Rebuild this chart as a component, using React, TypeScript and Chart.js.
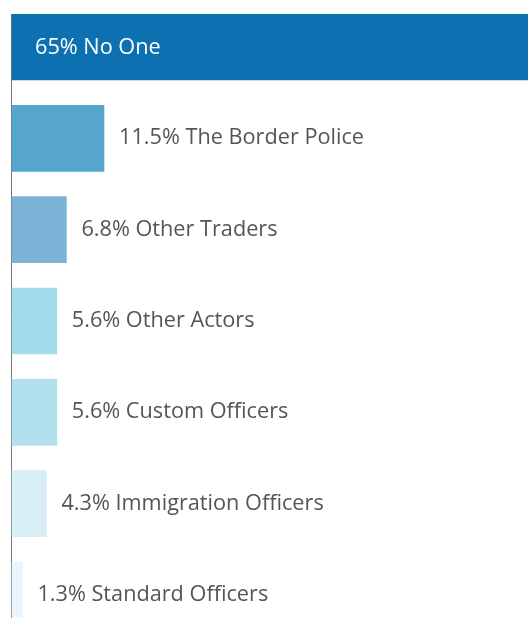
import React, { useEffect, useRef } from "react";
import { Chart, registerables } from "chart.js";

Chart.register(...registerables);

const categories = [
  "No One",
  "The Border Police",
  "Other Traders",
  "Other Actors",
  "Custom Officers",
  "Immigration Officers",
  "Standard Officers",
];
const values = [65, 11.5, 6.8, 5.6, 5.6, 4.3, 1.3];
const valueLabels = ["65%", "11.5%", "6.8%", "5.6%", "5.6%", "4.3%", "1.3%"];
const barColors = [
  "#0c70b1",
  "#56a5cc",
  "#7ab3d6",
  "#a2dbea",
  "#b2e1ed",
  "#d7eef5",
  "#eaf6fc",
];

const labelPlugin = {
  id: "barLabels",
  afterDatasetsDraw(chart: any) {
    const ctx = chart.ctx;
    const meta = chart.getDatasetMeta(0);
    const area = chart.chartArea;
    ctx.save();
    ctx.font = "21.7px 'Open Sans'";
    ctx.textBaseline = "alphabetic";
    ctx.textAlign = "left";
    meta.data.forEach((bar: any, i: number) => {
      const text = valueLabels[i] + " " + categories[i];
      const w = ctx.measureText(text).width;
      const outsideX = bar.x + 15;
      if (outsideX + w > area.right) {
        ctx.fillStyle = "#ffffff";
        ctx.fillText(text, bar.base + 23, bar.y + 7);
      } else {
        ctx.fillStyle = "#555555";
        ctx.fillText(text, outsideX, bar.y + 6);
      }
    });
    ctx.restore();
  },
};

export default function App() {
  const ref = useRef<HTMLCanvasElement>(null);
  useEffect(() => {
    if (!ref.current) return;
    const chart = new Chart(ref.current, {
      type: "bar",
      data: {
        datasets: [
          {
            data: values.map((v, i) => ({ x: v, y: i })),
            backgroundColor: barColors,
            borderWidth: 0,
            barThickness: 66,
          },
        ],
      },
      options: {
        indexAxis: "y",
        animation: false,
        responsive: false,
        layout: { padding: { left: 11, top: 14, right: 0, bottom: 0 } },
        plugins: {
          legend: { display: false },
          tooltip: { enabled: false },
        },
        scales: {
          x: { type: "linear", display: false, offset: false, min: -0.125, max: 64.5 },
          y: {
            type: "linear",
            reverse: true,
            offset: false,
            min: -0.3613,
            max: 6.2517,
            grid: { display: false, drawTicks: false, offset: false },
            ticks: { display: false },
            border: { display: true, color: "#777777", width: 1 },
          },
        },
      },
      plugins: [labelPlugin],
    } as any);
    return () => chart.destroy();
  }, []);
  return (
    <div
      style={{
        position: "fixed",
        left: 0,
        top: 0,
        width: 528,
        height: 618,
        overflow: "hidden",
        background: "#ffffff",
      }}
    >
      <canvas ref={ref} width={528} height={618} />
    </div>
  );
}
